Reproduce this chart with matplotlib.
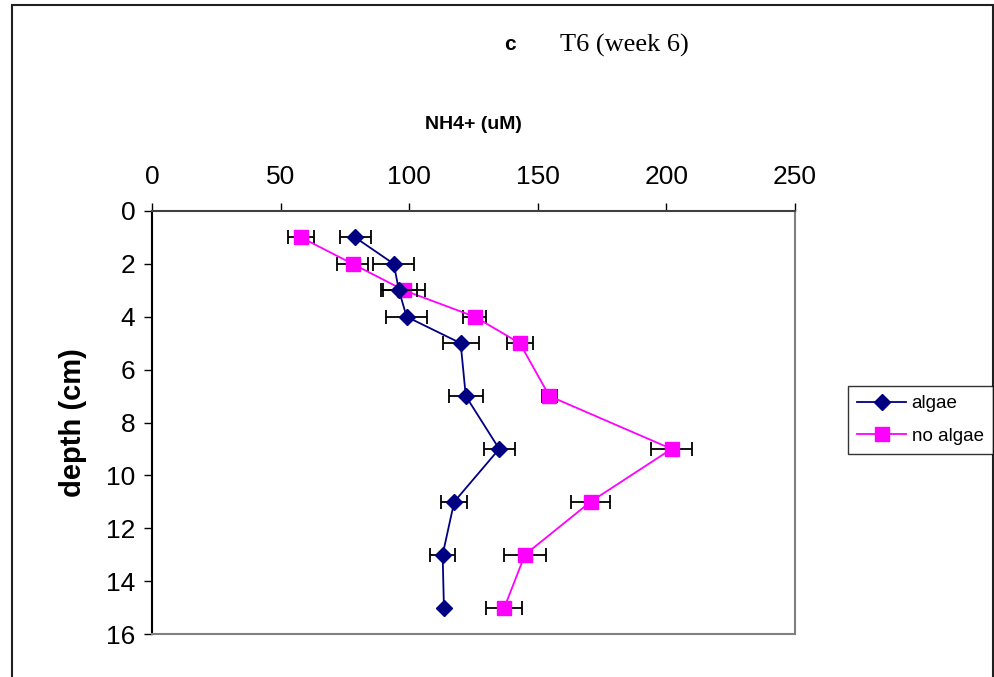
import matplotlib.pyplot as plt
from matplotlib.patches import Rectangle

depth = [1, 2, 3, 4, 5, 7, 9, 11, 13, 15]

algae = [79, 94, 96, 99, 120, 122, 135, 117.5, 113, 113.5]
algae_err = [6, 8, 7, 8, 7, 6.5, 6, 5, 5, 0]

no_algae = [58, 78, 98, 125.5, 143, 154.5, 202, 170.5, 145, 137]
no_algae_err = [5, 6, 8, 4.5, 5, 3, 8, 7.5, 8, 7]

plt.rcParams['font.family'] = ['Liberation Sans', 'DejaVu Sans']

fig = plt.figure(figsize=(9.95, 6.77), dpi=100)
ax = fig.add_axes([152/995, 1 - 634/677, (795-152)/995, (634-211)/677])

ax.errorbar(algae, depth, xerr=algae_err, color='#000080', marker='D', markersize=8,
            linewidth=1.3, ecolor='black', elinewidth=1.3, capsize=5, capthick=1.3,
            label='algae', zorder=3)
ax.errorbar(no_algae, depth, xerr=no_algae_err, color='#FF00FF', marker='s', markersize=9.5,
            linewidth=1.3, ecolor='black', elinewidth=1.3, capsize=5, capthick=1.3,
            label='no algae', zorder=2)

ax.set_xlim(0, 250)
ax.set_ylim(16, 0)
ax.set_xticks([0, 50, 100, 150, 200, 250])
ax.set_yticks(range(0, 17, 2))
ax.xaxis.tick_top()
ax.xaxis.set_label_position('top')
ax.tick_params(axis='both', labelsize=19, direction='out', length=6, width=1)
ax.tick_params(axis='x', pad=10)
ax.tick_params(axis='y', pad=6)

ax.set_xlabel('NH4+ (uM)', fontsize=14, fontweight='bold', labelpad=26)
ax.set_ylabel('depth (cm)', fontsize=21, fontweight='bold', labelpad=14)

ax.spines['left'].set_color('black')
ax.spines['top'].set_color('#404040')
ax.spines['right'].set_color('#808080')
ax.spines['bottom'].set_color('#808080')
for s in ax.spines.values():
    s.set_linewidth(1.5)

fig.text(510/995, 1 - 45/677, 'c', fontsize=15, fontweight='bold', ha='center', va='center')
fig.text(560/995, 1 - 45/677, 'T6 (week 6)', fontsize=19, family='Liberation Serif',
         ha='left', va='center')

handles, labels = ax.get_legend_handles_labels()
handles = [h[0] for h in handles]
leg = fig.legend(handles, labels, loc='upper left', bbox_to_anchor=(848/995, 1 - 386/677),
                 fontsize=13.5, frameon=True, fancybox=False, edgecolor='black',
                 borderpad=0.5, handlelength=2.6, labelspacing=0.8, handletextpad=0.3,
                 borderaxespad=0)
leg.get_frame().set_linewidth(1)

# outer chart frame
fig.patches.append(Rectangle((12/995, -0.1), (993-12)/995, 1.1 - 5/677,
                             transform=fig.transFigure, fill=False,
                             edgecolor='#202020', linewidth=1.5))

fig.savefig('out.png', dpi=100)
